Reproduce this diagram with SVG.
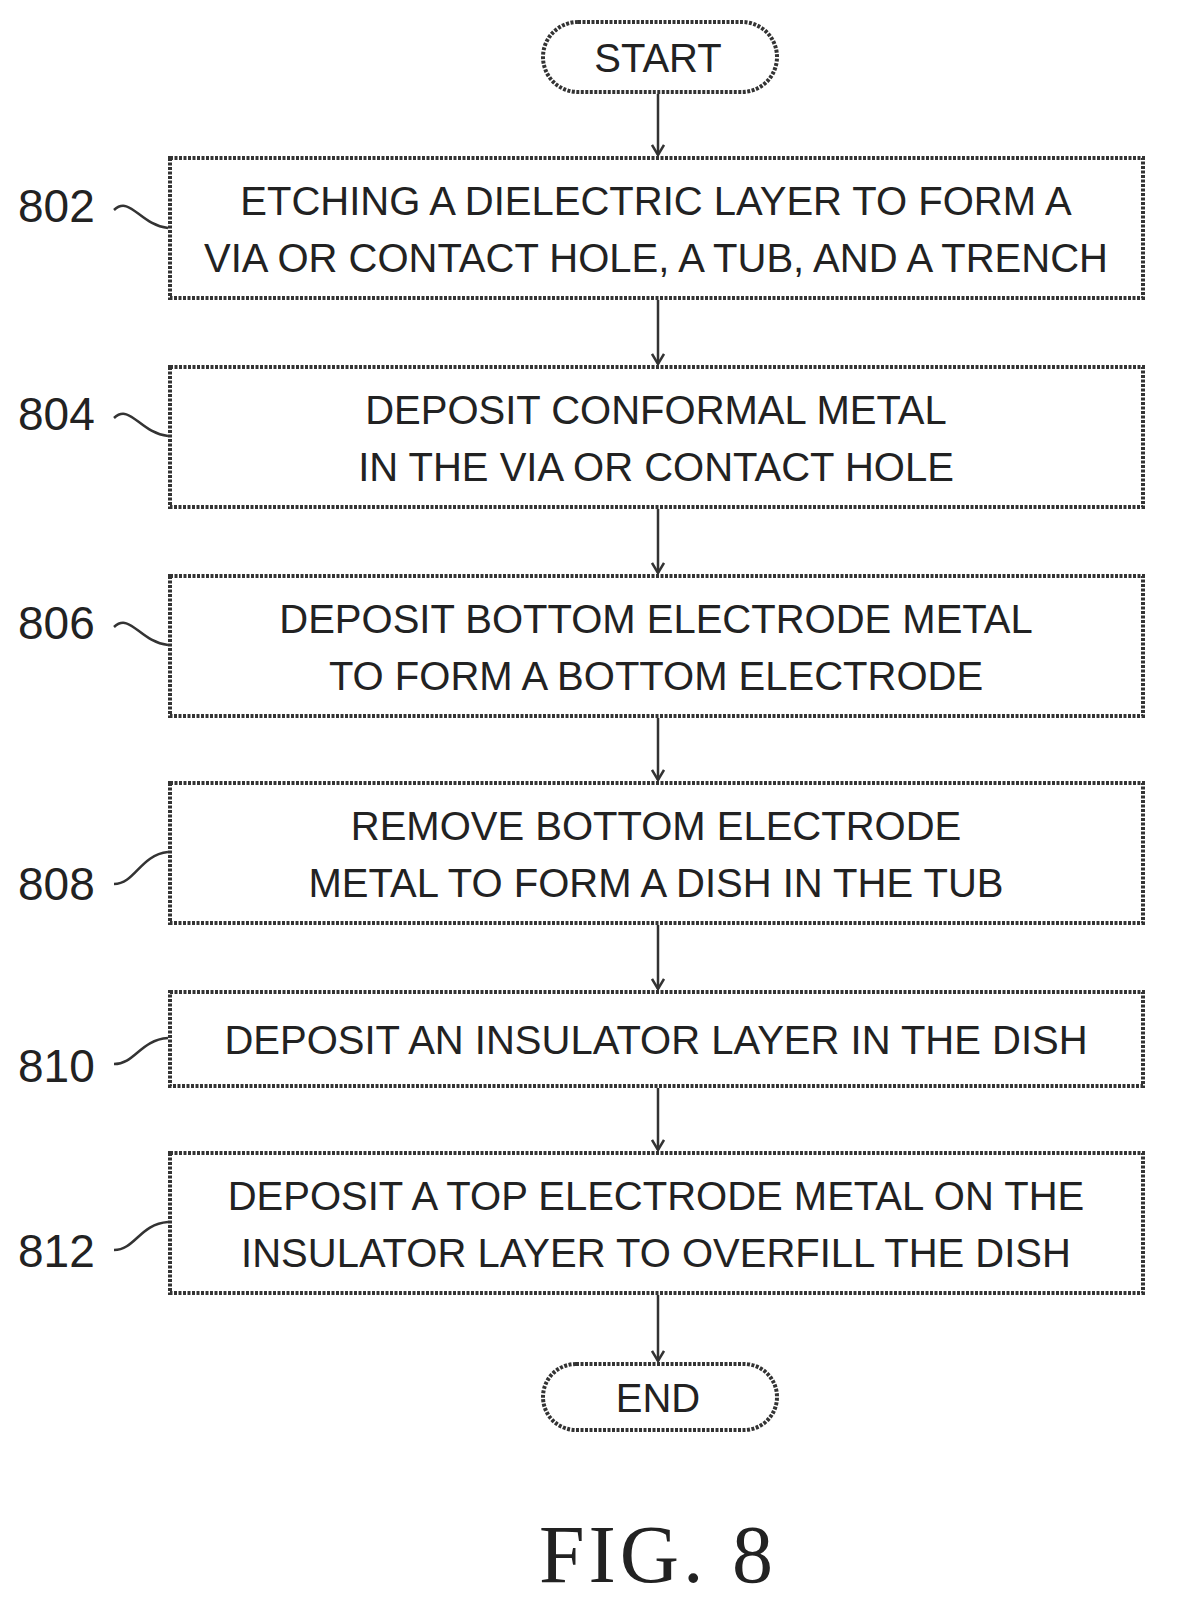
<svg xmlns="http://www.w3.org/2000/svg" width="1192" height="1602" viewBox="0 0 1192 1602">
<defs><marker id="ah" markerWidth="14" markerHeight="14" refX="12" refY="7" orient="auto" markerUnits="userSpaceOnUse"><path d="M2,1 L12,7 L2,13" fill="none" stroke="#333" stroke-width="2.5"/></marker></defs>
<style>
.b{fill:#fff;stroke:#333;stroke-width:4;stroke-dasharray:3 1.5}
.t{font-family:"Liberation Sans",Arial,sans-serif;font-size:40px;fill:#222;text-anchor:middle}
.l{font-family:"Liberation Sans",Arial,sans-serif;font-size:46px;fill:#222;text-anchor:start}
.c{fill:none;stroke:#333;stroke-width:2.5}
</style>
<rect width="1192" height="1602" fill="#fff"/>
<g id="connectors">
<line class="c" x1="658" y1="94" x2="658" y2="155" marker-end="url(#ah)"/>
<line class="c" x1="658" y1="300" x2="658" y2="364" marker-end="url(#ah)"/>
<line class="c" x1="658" y1="509" x2="658" y2="573" marker-end="url(#ah)"/>
<line class="c" x1="658" y1="718" x2="658" y2="780" marker-end="url(#ah)"/>
<line class="c" x1="658" y1="925" x2="658" y2="989" marker-end="url(#ah)"/>
<line class="c" x1="658" y1="1088" x2="658" y2="1150" marker-end="url(#ah)"/>
<line class="c" x1="658" y1="1295" x2="658" y2="1361" marker-end="url(#ah)"/>
<path class="c" d="M114,210 C130,195 140,225 168,228"/>
<path class="c" d="M114,418 C130,403 140,433 168,436"/>
<path class="c" d="M114,627 C130,612 140,642 168,645"/>
<path class="c" d="M114,884 C135,884 140,855 168,852"/>
<path class="c" d="M114,1064 C135,1064 140,1040 168,1038"/>
<path class="c" d="M114,1250 C135,1250 140,1224 168,1222"/>
</g>
<g id="start"><rect class="b" x="543" y="22" width="234" height="70" rx="35"/><text class="t" x="658" y="72">START</text></g>
<g id="n802"><rect class="b" x="170" y="158" width="973" height="140"/><text class="t" x="656" y="215">ETCHING A DIELECTRIC LAYER TO FORM A</text><text class="t" x="656" y="272">VIA OR CONTACT HOLE, A TUB, AND A TRENCH</text><text class="l" x="18" y="222">802</text></g>
<g id="n804"><rect class="b" x="170" y="367" width="973" height="140"/><text class="t" x="656" y="424">DEPOSIT CONFORMAL METAL</text><text class="t" x="656" y="481">IN THE VIA OR CONTACT HOLE</text><text class="l" x="18" y="430">804</text></g>
<g id="n806"><rect class="b" x="170" y="576" width="973" height="140"/><text class="t" x="656" y="633">DEPOSIT BOTTOM ELECTRODE METAL</text><text class="t" x="656" y="690">TO FORM A BOTTOM ELECTRODE</text><text class="l" x="18" y="639">806</text></g>
<g id="n808"><rect class="b" x="170" y="783" width="973" height="140"/><text class="t" x="656" y="840">REMOVE BOTTOM ELECTRODE</text><text class="t" x="656" y="897">METAL TO FORM A DISH IN THE TUB</text><text class="l" x="18" y="900">808</text></g>
<g id="n810"><rect class="b" x="170" y="992" width="973" height="94"/><text class="t" x="656" y="1054">DEPOSIT AN INSULATOR LAYER IN THE DISH</text><text class="l" x="18" y="1082">810</text></g>
<g id="n812"><rect class="b" x="170" y="1153" width="973" height="140"/><text class="t" x="656" y="1210">DEPOSIT A TOP ELECTRODE METAL ON THE</text><text class="t" x="656" y="1267">INSULATOR LAYER TO OVERFILL THE DISH</text><text class="l" x="18" y="1267">812</text></g>
<g id="end"><rect class="b" x="543" y="1364" width="234" height="66" rx="33"/><text class="t" x="658" y="1412">END</text></g>
<text x="658" y="1582" font-family="Liberation Serif,serif" font-size="82" fill="#222" text-anchor="middle" letter-spacing="4">FIG. 8</text>
</svg>
